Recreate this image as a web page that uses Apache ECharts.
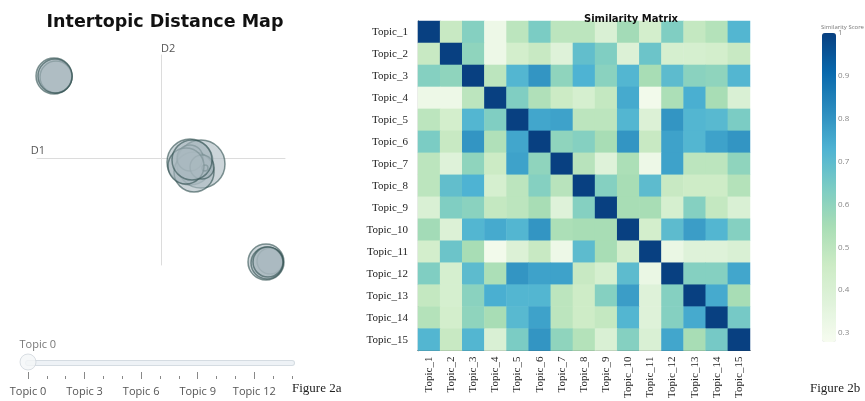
<!DOCTYPE html>
<html>
<head>
<meta charset="utf-8">
<script src="https://cdn.jsdelivr.net/npm/echarts@6/dist/echarts.min.js"></script>
<style>
  html, body { margin: 0; padding: 0; background: #fff; }
  #main { width: 865px; height: 401px; }
</style>
</head>
<body>
<div id="main"></div>
<script>
// topic bubbles (2D projection), x / y / topic size
var topicIds = [0, 1, 2, 3, 4, 5, 6, 7, 8, 9, 10, 11, 12, 13, 14];
var topicX = [-1.07, -1.05, -1.06, 0.29, 0.40, 0.33, 0.29, 0.41, 0.44, 0.25, 0.31, 1.05, 1.09, 1.06, 1.07];
var topicY = [0.82, 0.81, 0.82, -0.04, -0.06, -0.14, 0.00, -0.09, -0.10, -0.08, -0.02, -1.04, -1.03, -1.05, -1.04];
var topicSize = [324, 256, 289, 529, 576, 400, 169, 144, 9, 324, 400, 324, 169, 256, 225];

// slider labels
var sliderLabels = topicIds.map(function (t) { return 'Topic ' + t; });

// similarity matrix
var matrixLabels = ['Topic_1', 'Topic_2', 'Topic_3', 'Topic_4', 'Topic_5', 'Topic_6', 'Topic_7', 'Topic_8',
    'Topic_9', 'Topic_10', 'Topic_11', 'Topic_12', 'Topic_13', 'Topic_14', 'Topic_15'];
var similarity = [
    [1.00, 0.47, 0.62, 0.32, 0.50, 0.64, 0.50, 0.50, 0.40, 0.56, 0.43, 0.63, 0.48, 0.52, 0.72],
    [0.47, 1.00, 0.60, 0.32, 0.43, 0.47, 0.38, 0.69, 0.63, 0.39, 0.67, 0.42, 0.42, 0.43, 0.47],
    [0.62, 0.60, 1.00, 0.50, 0.72, 0.80, 0.60, 0.73, 0.61, 0.72, 0.55, 0.70, 0.61, 0.60, 0.72],
    [0.32, 0.32, 0.50, 1.00, 0.63, 0.53, 0.46, 0.42, 0.48, 0.75, 0.30, 0.54, 0.74, 0.55, 0.40],
    [0.50, 0.43, 0.72, 0.63, 1.00, 0.76, 0.77, 0.50, 0.50, 0.72, 0.39, 0.80, 0.72, 0.71, 0.64],
    [0.64, 0.47, 0.80, 0.53, 0.76, 1.00, 0.60, 0.62, 0.55, 0.80, 0.47, 0.77, 0.72, 0.77, 0.80],
    [0.50, 0.38, 0.60, 0.46, 0.77, 0.60, 1.00, 0.51, 0.38, 0.54, 0.32, 0.77, 0.50, 0.50, 0.60],
    [0.50, 0.69, 0.73, 0.42, 0.50, 0.62, 0.51, 1.00, 0.62, 0.55, 0.70, 0.47, 0.45, 0.45, 0.52],
    [0.40, 0.63, 0.61, 0.48, 0.50, 0.55, 0.38, 0.62, 1.00, 0.55, 0.55, 0.42, 0.62, 0.48, 0.40],
    [0.56, 0.39, 0.72, 0.75, 0.72, 0.80, 0.54, 0.55, 0.55, 1.00, 0.43, 0.70, 0.78, 0.72, 0.62],
    [0.43, 0.67, 0.55, 0.30, 0.39, 0.47, 0.32, 0.70, 0.55, 0.43, 1.00, 0.33, 0.38, 0.38, 0.40],
    [0.63, 0.42, 0.70, 0.54, 0.80, 0.77, 0.77, 0.47, 0.42, 0.70, 0.33, 1.00, 0.62, 0.62, 0.76],
    [0.48, 0.42, 0.61, 0.74, 0.72, 0.72, 0.50, 0.45, 0.62, 0.78, 0.38, 0.62, 1.00, 0.75, 0.55],
    [0.52, 0.43, 0.60, 0.55, 0.71, 0.77, 0.50, 0.45, 0.48, 0.72, 0.38, 0.62, 0.75, 1.00, 0.65],
    [0.72, 0.47, 0.72, 0.40, 0.64, 0.80, 0.60, 0.52, 0.40, 0.62, 0.40, 0.76, 0.55, 0.65, 1.00]
];

var GnBu = ['#f7fcf0', '#e0f3db', '#ccebc5', '#a8ddb5', '#7bccc4', '#4eb3d3', '#2b8cbe', '#0868ac', '#084081'];

function bubble_data() {
    var list = [];
    topicIds.forEach(function (t, i) {
        list.push({ name: 'Topic ' + t, value: [topicX[i], topicY[i], topicSize[i]] });
    });
    return list;
}

function heat_data() {
    var list = [];
    similarity.forEach(function (row, i) {
        row.forEach(function (v, j) {
            list.push([j, i, v]);
        });
    });
    return list;
}

var chartDom = document.getElementById('main');
var myChart = echarts.init(chartDom);
var serif = 'Liberation Serif';
var sans = 'DejaVu Sans';

var hiddenAxis = {
    axisLine: { show: false }, axisTick: { show: false },
    axisLabel: { show: false }, splitLine: { show: false }
};

var option = {
    animation: false,
    title: [
        { text: 'Intertopic Distance Map', left: 160, top: 8, textAlign: 'center',
          textStyle: { fontFamily: sans, fontWeight: 'bold', fontSize: 17.5, color: '#111' } },
        { text: 'Similarity Matrix', left: 626, top: 9, textAlign: 'center',
          textStyle: { fontFamily: sans, fontWeight: 'bold', fontSize: 10, color: '#111' } },
        { text: 'Similarity Score', left: 821, top: 24, padding: 0,
          textStyle: { fontFamily: 'Open Sans', fontWeight: 'normal', fontSize: 6, color: '#777' } },
        { text: 'Figure 2a', left: 287, top: 377,
          textStyle: { fontFamily: serif, fontWeight: 'normal', fontSize: 13, color: '#222' } },
        { text: 'Figure 2b', left: 805, top: 377,
          textStyle: { fontFamily: serif, fontWeight: 'normal', fontSize: 13, color: '#222' } }
    ],
    grid: [
        // distance map
        { left: 37, top: 55, width: 248, height: 210 },
        // heatmap
        { left: 418, top: 21, width: 332, height: 331 },
        // slider
        { left: 28, top: 362, width: 264, height: 1 },
        // colorbar ticks
        { left: 836, top: 33, width: 1, height: 300 }
    ],
    xAxis: [
        { gridIndex: 0, type: 'value', min: -1.24, max: 1.24,
          name: 'D1', nameLocation: 'start', nameGap: -8,
          nameTextStyle: { fontFamily: 'Open Sans', fontSize: 11, color: '#555', verticalAlign: 'bottom', align: 'right', padding: [0, 0, 2, 0] },
          axisLine: { onZero: true, lineStyle: { color: '#dcdcdc', width: 1 } },
          axisTick: { show: false }, axisLabel: { show: false }, splitLine: { show: false } },
        { gridIndex: 1, type: 'category', data: matrixLabels, position: 'bottom',
          axisLine: { lineStyle: { color: '#333', width: 1.2 } },
          axisTick: { show: false },
          axisLabel: { rotate: 90, margin: 6, fontFamily: serif, fontSize: 11, color: '#222', interval: 0 },
          splitLine: { show: false } },
        // slider track outer / inner
        { gridIndex: 2, type: 'category', data: sliderLabels, boundaryGap: false, position: 'bottom',
          axisLine: { lineStyle: { color: '#d5dce2', width: 6, cap: 'round' } },
          axisTick: { show: false }, axisLabel: { show: false } },
        { gridIndex: 2, type: 'category', data: sliderLabels, boundaryGap: false, position: 'bottom',
          axisLine: { lineStyle: { color: '#eef2f6', width: 4, cap: 'round' } },
          axisTick: { show: false }, axisLabel: { show: false } },
        // minor ticks
        { gridIndex: 2, type: 'category', data: sliderLabels, boundaryGap: false, position: 'bottom', offset: 13,
          axisLine: { show: false },
          axisTick: { show: true, interval: 0, length: 3, lineStyle: { color: '#888' } },
          axisLabel: { show: false } },
        // major ticks + labels
        { gridIndex: 2, type: 'category', data: sliderLabels, boundaryGap: false, position: 'bottom', offset: 9,
          axisLine: { show: false },
          axisTick: { show: true, interval: 2, length: 7, lineStyle: { color: '#888' } },
          axisLabel: { interval: 2, margin: 14, fontFamily: 'Open Sans', fontSize: 11, color: '#555' } },
        Object.assign({ gridIndex: 3, type: 'value' }, hiddenAxis)
    ],
    yAxis: [
        { gridIndex: 0, type: 'value', min: -1.07, max: 1.03,
          name: 'D2', nameLocation: 'end', nameGap: 1,
          nameTextStyle: { fontFamily: 'Open Sans', fontSize: 11, color: '#555', align: 'left' },
          axisLine: { onZero: true, lineStyle: { color: '#dcdcdc', width: 1 } },
          axisTick: { show: false }, axisLabel: { show: false }, splitLine: { show: false } },
        { gridIndex: 1, type: 'category', data: matrixLabels, inverse: true,
          axisLine: { lineStyle: { color: '#333', width: 1.2 } },
          axisTick: { show: false },
          axisLabel: { margin: 10, fontFamily: serif, fontSize: 11, color: '#222', interval: 0 },
          splitLine: { show: false } },
        Object.assign({ gridIndex: 2, type: 'value', min: 0, max: 1 }, hiddenAxis),
        { gridIndex: 3, type: 'value', min: 0.3, max: 1, interval: 0.1, position: 'right',
          axisLine: { show: false }, axisTick: { show: false }, splitLine: { show: false },
          axisLabel: { margin: 1, fontFamily: 'Open Sans', fontSize: 8, color: '#888',
              formatter: function (v) { return v >= 0.999 ? '1' : v.toFixed(1); } } }
    ],
    visualMap: {
        type: 'continuous', seriesIndex: 1, min: 0.28, max: 1,
        left: 822, top: 33, padding: 0, itemWidth: 14, itemHeight: 309,
        calculable: false, showLabel: false, text: null, z: 1,
        inRange: { color: GnBu }
    },
    series: [
        {
            type: 'scatter', xAxisIndex: 0, yAxisIndex: 0,
            data: bubble_data(),
            symbolSize: function (v) { return 2 * Math.sqrt(v[2]); },
            clip: false,
            itemStyle: { color: 'rgba(170,185,191,0.75)', borderColor: 'rgba(47,79,79,0.75)', borderWidth: 1.5 },
            emphasis: { disabled: true }
        },
        {
            type: 'heatmap', xAxisIndex: 1, yAxisIndex: 1,
            data: heat_data(),
            itemStyle: { borderWidth: 0 },
            emphasis: { disabled: true }
        },
        {
            // slider handle (current topic)
            type: 'scatter', xAxisIndex: 2, yAxisIndex: 2,
            data: [[0, 1]],
            symbolSize: 16, clip: false, z: 5,
            itemStyle: { color: '#f4f6f8', borderColor: '#cfd6dc', borderWidth: 1 },
            label: { show: true, position: [0, -14], align: 'left', verticalAlign: 'top', formatter: sliderLabels[0],
                fontFamily: 'Open Sans', fontSize: 11, color: '#555' },
            emphasis: { disabled: true }
        },
        {
            // anchor for the colorbar tick axis
            type: 'scatter', xAxisIndex: 6, yAxisIndex: 3, data: [], silent: true
        }
    ]
};

myChart.setOption(option);
</script>
</body>
</html>
